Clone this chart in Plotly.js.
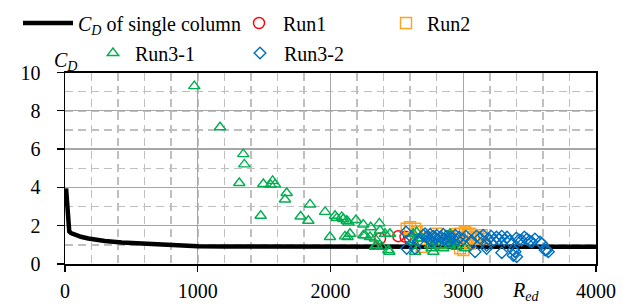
<!DOCTYPE html>
<html>
<head>
<meta charset="utf-8">
<script src="https://cdn.plot.ly/plotly-3.0.1.min.js"></script>
<style>html,body{margin:0;padding:0;background:#fff;}#chart{width:638px;height:308px;}</style>
</head>
<body>
<div id="chart"></div>
<script>
// C_D of single column (curve)
const singleRe = [8, 12, 16, 20, 25, 32, 45, 75, 120, 176, 250, 300, 428, 553, 667, 800, 1000, 1200, 1500, 2000, 3000, 4000];
const singleCd = [3.95, 3.6, 2.9, 2.2, 1.82, 1.7, 1.62, 1.53, 1.42, 1.33, 1.24, 1.2, 1.12, 1.07, 1.03, 0.98, 0.93, 0.91, 0.9, 0.9, 0.9, 0.9];

// Run1
const run1Re = [2373, 2511, 2565, 2600];
const run1Cd = [1.33, 1.45, 1.42, 1.30];

// Run2
const run2Re = [2574, 2599, 2637, 2649, 2687, 2700, 2750, 2800, 2825, 2850, 2900, 2950, 2976, 2976, 3001, 3013, 3013, 3038, 3051, 3051, 3075, 3101, 3113, 3139, 3160];
const run2Cd = [1.84, 1.92, 1.84, 1.66, 0.90, 1.30, 1.40, 1.58, 1.07, 1.30, 1.45, 1.55, 1.58, 0.82, 0.73, 1.66, 1.15, 1.50, 1.58, 1.07, 1.40, 1.33, 1.41, 1.50, 1.30];

// Run3-1
const run31Re = [974, 1168, 1343, 1351, 1313, 1494, 1549, 1564, 1582, 1670, 1657, 1474, 1846, 1775, 1833, 1959, 2034, 1996, 2047, 2084, 2097, 2122, 2135, 2109, 2129, 2147, 2192, 2247, 2247, 2260, 2298, 2303, 2335, 2348, 2335, 2368, 2373, 2386, 2410, 2436, 2443, 2448, 2624, 2649, 2674, 2687, 2624, 2637, 2750, 2762, 2775, 2825, 2850, 2862, 2875, 2900, 2900, 2925, 2950, 3013];
const run31Cd = [9.29, 7.14, 5.74, 5.20, 4.23, 4.18, 4.13, 4.34, 4.16, 3.71, 3.37, 2.52, 3.11, 2.48, 2.26, 2.72, 2.52, 1.41, 2.40, 2.46, 2.35, 2.26, 2.17, 1.44, 1.41, 1.58, 2.30, 2.06, 1.50, 1.50, 1.41, 1.92, 1.33, 0.98, 0.90, 2.12, 1.75, 0.90, 1.58, 0.73, 0.64, 1.58, 1.58, 1.66, 1.33, 1.33, 1.15, 0.64, 0.98, 0.82, 0.64, 0.98, 0.82, 1.24, 1.24, 0.98, 1.58, 1.07, 0.90, 0.82];

// Run3-2
const run32Re = [2569, 2574, 2612, 2637, 2660, 2700, 2712, 2725, 2740, 2750, 2762, 2775, 2790, 2800, 2815, 2830, 2850, 2860, 2875, 2890, 2900, 2920, 2940, 2955, 2970, 3000, 3020, 3063, 3089, 3100, 3126, 3150, 3176, 3176, 3190, 3210, 3230, 3250, 3270, 3290, 3290, 3310, 3330, 3350, 3377, 3377, 3390, 3402, 3400, 3420, 3440, 3460, 3480, 3500, 3516, 3540, 3578, 3591, 3616, 3628, 3641];
const run32Cd = [1.66, 0.82, 1.40, 0.82, 1.20, 1.50, 1.58, 1.40, 1.30, 1.55, 1.20, 1.45, 1.35, 1.50, 1.25, 1.40, 1.55, 1.30, 1.45, 1.20, 1.40, 1.35, 1.50, 1.25, 1.40, 1.30, 1.45, 1.20, 0.64, 1.45, 1.35, 1.50, 0.98, 0.82, 1.30, 1.45, 1.25, 1.40, 1.30, 0.59, 1.45, 1.25, 1.40, 1.20, 0.45, 0.73, 0.64, 0.38, 1.35, 1.25, 1.24, 1.40, 1.30, 1.20, 1.15, 1.30, 1.15, 1.07, 0.73, 0.73, 0.64];

const xTicks = [0, 1000, 2000, 3000, 4000];
const yTicks = [0, 2, 4, 6, 8, 10];

const FONT = 'Liberation Serif, Times New Roman, serif';
const W = 638, H = 308;

function mk(name, x, y, symbol, size, color, legend) {
  return {
    type: 'scatter', mode: 'markers', name: name, x: x, y: y, legend: legend,
    marker: {symbol: symbol, size: size, color: color, line: {color: color, width: 1.4}},
    cliponaxis: false
  };
}

const traces = [
  {type: 'scatter', mode: 'lines', name: '<i>C</i><sub><i>D</i></sub> of single column', x: singleRe, y: singleCd,
   line: {color: '#000000', width: 4.5}, legend: 'legend'},
  mk('Run1', run1Re, run1Cd, 'circle-open', 11, '#FF0000', 'legend2'),
  mk('Run2', run2Re, run2Cd, 'square-open', 11, '#FFA21F', 'legend3'),
  mk('Run3-1', run31Re, run31Cd, 'triangle-up-open', 10, '#00B050', 'legend4'),
  mk('Run3-2', run32Re, run32Cd, 'diamond-open', 9, '#0070C0', 'legend5')
];

function lg(px, py, iw) {
  return {x: px / W, xref: 'container', y: 1 - py / H, yref: 'container', xanchor: 'left', yanchor: 'middle',
    orientation: 'h', bgcolor: 'rgba(0,0,0,0)', borderwidth: 0, itemwidth: iw,
    font: {family: FONT, size: 20, color: '#000'}};
}

const plotL = 65, plotR = 596, plotT = 69, plotB = 264.3;
function px2paperX(p) { return (p - plotL) / (plotR - plotL); }
function px2paperY(p) { return (plotB - p) / (plotB - plotT); }

const layout = {
  width: W, height: H,
  margin: {l: plotL, r: W - plotR, t: plotT, b: H - plotB},
  paper_bgcolor: '#fff', plot_bgcolor: '#fff',
  font: {family: FONT, size: 20, color: '#000'},
  showlegend: true,
  legend: lg(18, 23, 50),
  legend2: lg(235, 23, 38),
  legend3: lg(385, 23, 32),
  legend4: lg(91, 53, 34),
  legend5: lg(236, 53, 38),
  xaxis: {
    range: [0, 4000], tickvals: xTicks, ticktext: xTicks.map(String),
    showgrid: true, gridcolor: '#A6A6A6', gridwidth: 1.3,
    minor: {dtick: 200, tick0: 0, showgrid: true, gridcolor: '#BFBFBF', griddash: '8px,5px', gridwidth: 1.5},
    showline: true, linecolor: '#000', linewidth: 1.5, mirror: true,
    ticks: 'outside', ticklen: 6, tickwidth: 1.3, tickcolor: '#000', ticklabelstandoff: 2,
    zeroline: false, tickfont: {family: FONT, size: 20, color: '#000'}
  },
  yaxis: {
    range: [0, 10], tickvals: yTicks, ticktext: yTicks.map(String),
    showgrid: true, gridcolor: '#A6A6A6', gridwidth: 1.3,
    minor: {dtick: 1, tick0: 0, showgrid: true, gridcolor: '#BFBFBF', griddash: '8px,5px', gridwidth: 1.5},
    showline: true, linecolor: '#000', linewidth: 1.5, mirror: true,
    ticks: 'outside', ticklen: 7, tickwidth: 1.3, tickcolor: '#000', ticklabelstandoff: 12,
    zeroline: false, tickfont: {family: FONT, size: 20, color: '#000'}
  },
  annotations: [
    {text: '<i>C</i><sub><i>D</i></sub>', xref: 'paper', yref: 'paper', x: px2paperX(52), y: px2paperY(58),
     xanchor: 'left', yanchor: 'middle', showarrow: false, font: {family: FONT, size: 20, color: '#000'}},
    {text: '<i>R</i><sub><i>ed</i></sub>', xref: 'paper', yref: 'paper', x: px2paperX(510), y: px2paperY(292),
     xanchor: 'left', yanchor: 'middle', showarrow: false, font: {family: FONT, size: 20, color: '#000'}}
  ]
};

Plotly.newPlot('chart', traces, layout, {displayModeBar: false, staticPlot: true});
</script>
</body>
</html>
